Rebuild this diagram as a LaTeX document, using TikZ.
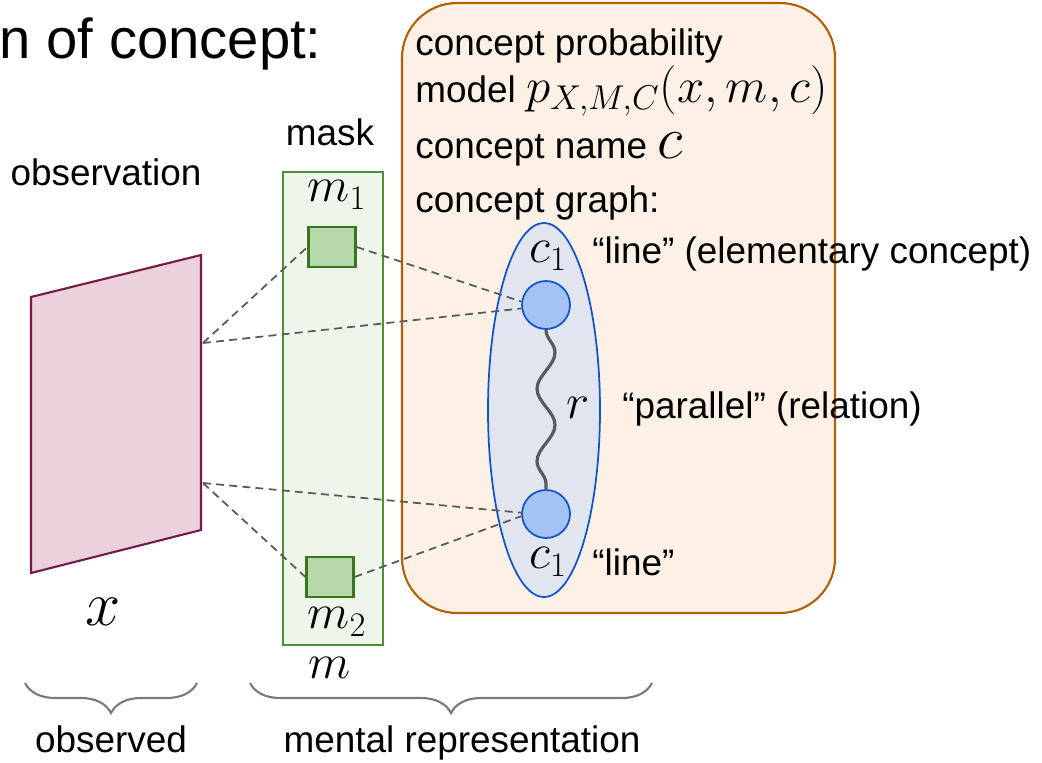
\RequirePackage{fix-cm}
\documentclass[tikz,border=0pt]{standalone}
\usepackage{fontspec}
\setmainfont{Liberation Sans}
\usetikzlibrary{positioning}
\usetikzlibrary{decorations.pathmorphing,decorations.pathreplacing}
\usetikzlibrary{calc}

\definecolor{boxfill}{HTML}{FDF1E6}
\definecolor{boxedge}{HTML}{B45F06}
\definecolor{maskfill}{HTML}{EEF5EA}
\definecolor{maskedge}{HTML}{4E8F35}
\definecolor{patchfill}{HTML}{B6D7A8}
\definecolor{patchedge}{HTML}{38761D}
\definecolor{obsfill}{HTML}{EAD1DC}
\definecolor{obsedge}{HTML}{741B47}
\definecolor{graphfill}{HTML}{E0E5F0}
\definecolor{partfill}{HTML}{A4C2F4}
\definecolor{partedge}{HTML}{1155CC}
\definecolor{linkgray}{HTML}{595959}

\begin{document}
\begin{tikzpicture}[x=0.02cm, y=-0.02cm,
  txt/.style={font=\fontsize{21}{25}\selectfont, inner sep=0pt},
  mth/.style={font=\fontsize{28}{30}\selectfont, inner sep=0pt},
  patch/.style={draw=patchedge, fill=patchfill, line width=1.2pt, minimum width=0.94cm, minimum height=0.8cm, inner sep=0pt},
  part/.style={circle, draw=partedge, fill=partfill, line width=1pt, minimum size=0.96cm, inner sep=0pt},
  link/.style={draw=linkgray, line width=1pt, dash pattern=on 4.5pt off 3pt},
  rel/.style={draw=linkgray, line width=1.8pt, decorate, decoration={snake, segment length=1.45cm, amplitude=0.18cm}},
  grp/.style={draw=linkgray!80, line width=1.2pt, decorate, decoration={brace, mirror, amplitude=0.6cm}}]

	\useasboundingbox (0,0) rectangle (1042,762);

	\node[anchor=base east, inner sep=0pt, font=\fontsize{32}{36}\selectfont] (title) at (322,58) {n of concept:};

	\draw[draw=boxedge, fill=boxfill, line width=1.2pt, rounded corners=1.1cm] (402,3) rectangle (835,613);
	\node[txt, anchor=base west] (l1) at (415,55) {concept probability};
	\node[txt, anchor=base west] (l2) at (415,102) {model {\fontsize{28}{30}\selectfont$p_{X,M,C}(x,m,c)$}};
	\node[txt, anchor=base west] (l3) at (415,158) {concept name {\fontsize{34}{36}\selectfont$c$}};
	\node[txt, anchor=base west] (l4) at (415,212) {concept graph:};

	\node[draw=maskedge, fill=maskfill, line width=1.2pt, minimum width=2cm, minimum height=9.46cm, inner sep=0pt] (mask) at (333,408.5) {};
	\node[txt, anchor=base] (masklab) at (330,145) {mask};

	\draw[draw=obsedge, fill=obsfill, line width=1.2pt] (31,297) -- (201,255) -- (201,530) -- (31,573) -- cycle;
	\coordinate (obsA) at (203,343);
	\coordinate (obsB) at (203,483);
	\node[txt, anchor=base] (obslab) at (106,185) {observation};
	\node[inner sep=0pt, font=\fontsize{36}{38}\selectfont] (xlab) at (103,612) {$x$};

	\draw[draw=partedge, fill=graphfill, line width=1pt] (544,410) ellipse [x radius=56, y radius=187];

	\foreach \name/\px/\py/\lab/\ly in {m1box/332/247/m_1/195, m2box/330/577/m_2/622} {
		\node[patch] (\name) at (\px,\py) {};
		\node[mth] (\name lab) at (337,\ly) {$\lab$};
	}
	\node[mth] (mlab) at (330,668) {$m$};

	\foreach \name/\py/\ly in {ctop/305/256, cbot/514/562} {
		\node[part] (\name) at (546,\py) {};
		\node[mth] (\name lab) at (548,\ly) {$c_1$};
	}

	\draw[rel] (ctop.south) -- (cbot.north);
	\node[mth] (rlab) at (578,408) {$r$};

	\node[txt, anchor=base west] (t1) at (592,263) {“line” (elementary concept)};
	\node[txt, anchor=base west] (t2) at (622,418) {“parallel” (relation)};
	\node[txt, anchor=base west] (t3) at (592,575) {“line”};

	\draw[link] (obsA) -- (m1box.west);
	\draw[link] (m1box.east) -- (ctop.172);
	\draw[link] (obsA) -- (ctop.188);
	\draw[link] (obsB) -- (cbot.177);
	\draw[link] (obsB) -- (m2box.west);
	\draw[link] (m2box.east) -- (cbot.185);

	\coordinate (b1s) at (25,683);
	\coordinate (b1e) at (197,683);
	\coordinate (b2s) at (250,683);
	\coordinate (b2e) at (652,683);
	\draw[grp] (b1s) -- (b1e);
	\draw[grp] (b2s) -- (b2e);
	\node[txt, anchor=base] (obsd) at (111,752) {observed};
	\node[txt, anchor=base] (ment) at (462,752) {mental representation};

\end{tikzpicture}
\end{document}
